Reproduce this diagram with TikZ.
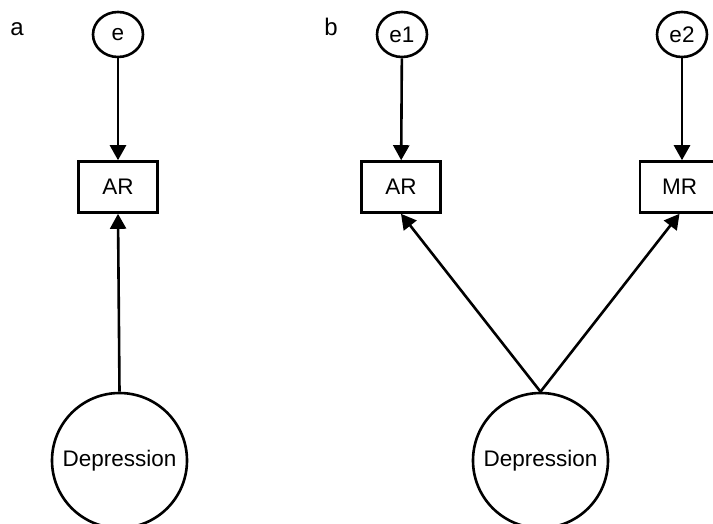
\documentclass[tikz,border=0pt]{standalone}
\usepackage{fontspec}
\setmainfont{Liberation Sans}
\usetikzlibrary{arrows.meta,shapes.geometric}
\begin{document}
\begin{tikzpicture}[x=1pt,y=-1pt,
  every node/.style={font=\fontsize{22.5}{24}\selectfont},
  err/.style={draw,ellipse,line width=2.6pt,minimum width=50pt,minimum height=45pt,inner sep=0pt},
  obs/.style={draw,rectangle,line width=2.6pt,minimum width=79pt,minimum height=51pt,inner sep=0pt},
  latent/.style={draw,circle,line width=2.6pt,minimum size=135pt,inner sep=0pt},
  path/.style={line width=2.6pt,-{Triangle[length=15pt,width=16pt]}},
  panel/.style={font=\fontsize{24}{26}\selectfont}]
\clip (0,0) rectangle (713,523);
\useasboundingbox (0,0) rectangle (713,523);
\fill[white] (0,0) rectangle (713,523);

% panel a: one indicator
\node[panel] (la) at (17,29) {a};
\node[err] (e) at (118,34.5) {e};
\node[obs] (ar) at (118,187) {AR};
\node[latent] (dep) at (119.5,460.5) {Depression};
\draw[path] (e) -- (ar);
\draw[path] (dep.north) -- (ar.south);

% panel b: two indicators
\node[panel] (lb) at (331,27) {b};
\node[err] (e1) at (402,34.5) {e1};
\node[err] (e2) at (682,34.5) {e2};
\node[obs] (ar2) at (401,187) {AR};
\node[obs] (mr2) at (679.5,187) {MR};
\node[latent] (dep2) at (540.5,460.5) {Depression};
\draw[path] (e1) -- (ar2);
\draw[path] (e2) -- (e2 |- mr2.north);
\draw[path] (dep2.north) -- (ar2.south);
\draw[path] (dep2.north) -- (mr2.south);
\end{tikzpicture}
\end{document}
